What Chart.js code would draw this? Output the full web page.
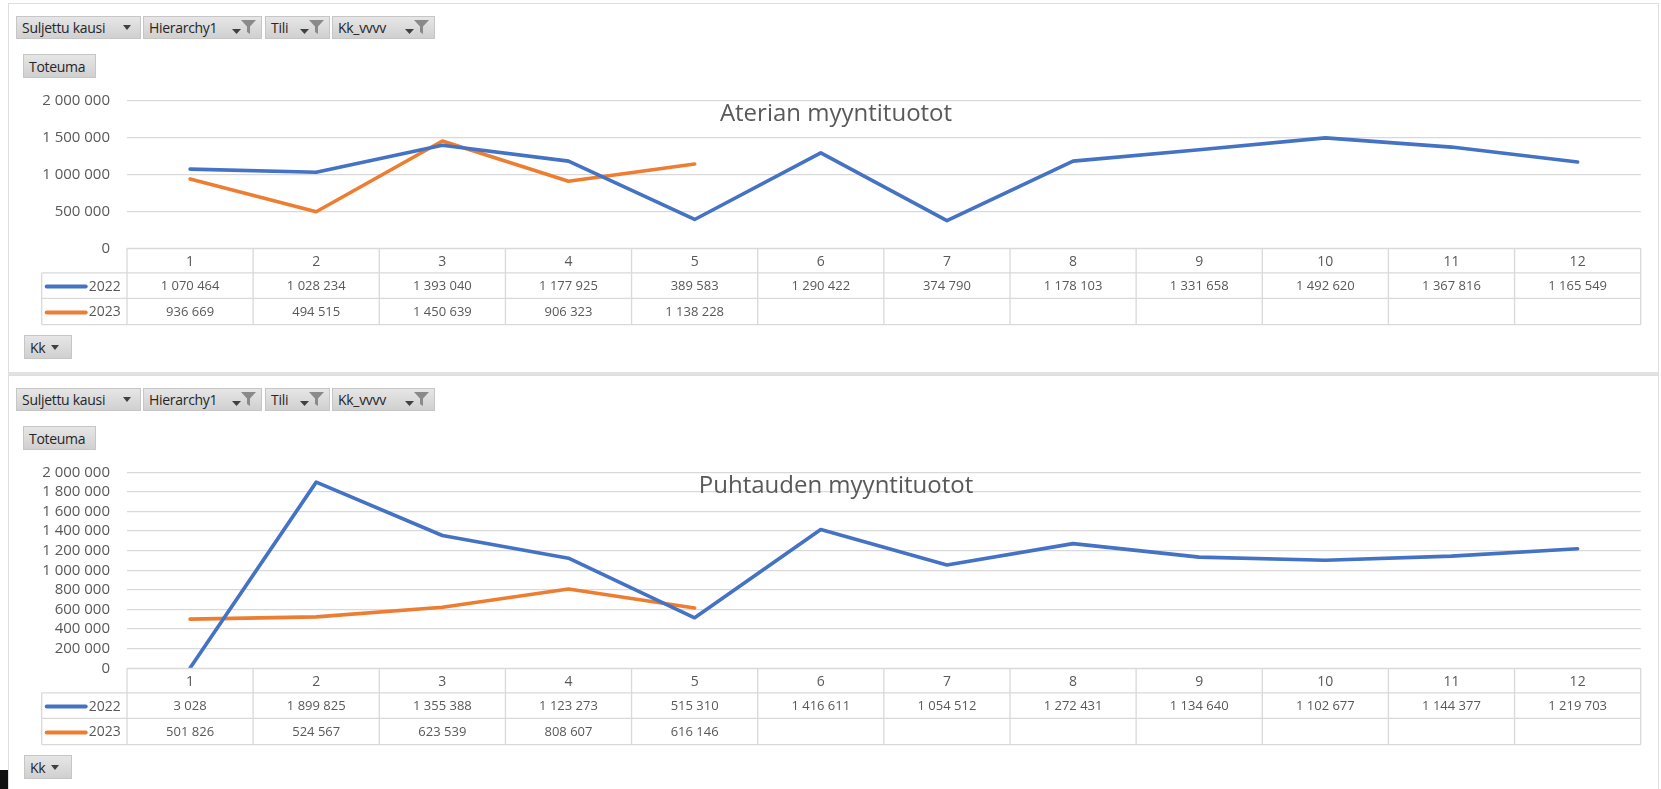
<!DOCTYPE html>
<html lang="fi">
<head>
<meta charset="utf-8">
<title>Myyntituotot</title>
<script src="https://cdn.jsdelivr.net/npm/chart.js@4.4.1/dist/chart.umd.min.js"></script>
<style>
  html, body { margin: 0; padding: 0; background: #fff; }
  body { width: 1661px; height: 789px; position: relative; overflow: hidden; font-family: "Open Sans", sans-serif; }
  .panel { position: absolute; left: 8px; width: 1651px; border: 1px solid #dedede; box-sizing: border-box; }
  #panel1 { top: 3px; height: 372px; border-bottom: 3px solid #e2e2e2; }
  #panel2 { top: 375px; height: 430px; }
  .btn { position: absolute; height: 23px; background: linear-gradient(#e6e6e6, #d0d0d0); border: 1px solid #c6c6c6;
         box-sizing: border-box; font-size: 14px; color: #262626; display: flex; align-items: center;
         padding-left: 5px; letter-spacing: -0.3px; white-space: nowrap; }
  .btn svg { position: absolute; }
  .title { position: absolute; font-size: 24px; line-height: 24px; color: #595959; transform: translateX(-50%); white-space: nowrap; }
  canvas { position: absolute; left: 0; }
  #blackStrip { position: absolute; left: 0; top: 770px; width: 8px; height: 19px; background: #111; }
</style>
</head>
<body>
<div class="panel" id="panel1"></div>
<div class="panel" id="panel2"></div>
<div id="blackStrip"></div>

<canvas id="aterianChart" width="1661" height="250" style="top:85px"></canvas>
<canvas id="puhtaudenChart" width="1661" height="300" style="top:455px"></canvas>

<div class="title" style="left:836px; top:100px">Aterian myyntituotot</div>
<div class="title" style="left:836px; top:472px">Puhtauden myyntituotot</div>

<script>
const months = ["1", "2", "3", "4", "5", "6", "7", "8", "9", "10", "11", "12"];
const years = ["2022", "2023"];

const aterian2022 = [1070464, 1028234, 1393040, 1177925, 389583, 1290422, 374790, 1178103, 1331658, 1492620, 1367816, 1165549];
const aterian2023 = [936669, 494515, 1450639, 906323, 1138228, null, null, null, null, null, null, null];

const puhtauden2022 = [3028, 1899825, 1355388, 1123273, 515310, 1416611, 1054512, 1272431, 1134640, 1102677, 1144377, 1219703];
const puhtauden2023 = [501826, 524567, 623539, 808607, 616146, null, null, null, null, null, null, null];

const yMax = 2000000;
const aterianStep = 500000;
const puhtaudenStep = 200000;

const filterButtons = ["Suljettu kausi", "Hierarchy1", "Tili", "Kk_vvvv"];

const BLUE = "#4472C4";
const ORANGE = "#ED7D31";
const TEXT = "#595959";
const GRID = "#d9d9d9";

Chart.defaults.font.family = "'Open Sans', sans-serif";

function formatNumber(value) {
  return String(Math.round(value)).replace(/\B(?=(\d{3})+(?!\d))/g, " ");
}

// ---- filter bars (pivot chart buttons) ----
const ARROW = '<svg width="8" height="5" style="right:9px;top:8px"><path d="M0 0H8L4 5Z" fill="#404040"/></svg>';
const FUNNEL =
  '<svg width="9" height="5" style="right:20px;top:12px"><path d="M0 0H9L4.5 5Z" fill="#404040"/></svg>' +
  '<svg width="15" height="14" style="right:5px;top:3px"><path d="M0 0H15L9 6.5V14L6 12V6.5Z" fill="#8a8a8a"/></svg>';

function addButton(text, left, top, width, height, icons) {
  const el = document.createElement("div");
  el.className = "btn";
  el.style.left = left + "px";
  el.style.top = top + "px";
  el.style.width = width + "px";
  el.style.height = height + "px";
  el.innerHTML = "<span>" + text + "</span>" + (icons || "");
  document.body.appendChild(el);
}

function addFilterBar(top, kkTop) {
  const lefts = [16, 143, 265, 332];
  const widths = [125, 119, 65, 103];
  filterButtons.forEach((name, i) => {
    addButton(name, lefts[i], top, widths[i], 23, i === 0 ? ARROW : FUNNEL);
  });
  addButton("Toteuma", 23, top + 38, 73, 24, "");
  addButton("Kk", 24, kkTop, 48, 24,
    '<svg width="8" height="5" style="right:12px;top:9px"><path d="M0 0H8L4 5Z" fill="#404040"/></svg>');
}

addFilterBar(16, 335);
addFilterBar(388, 755);

// ---- data table drawn under the plot, aligned to the x scale ----
const dataTablePlugin = {
  id: "dataTable",
  afterDraw(chart, args, opts) {
    const { ctx, chartArea, scales } = chart;
    const x = scales.x;
    const left = chartArea.left;
    const right = chartArea.right;
    const top = chartArea.bottom;
    const n = chart.data.labels.length;
    const colW = (right - left) / n;
    const rowH = opts.rowHeights;
    const y1 = top + rowH[0];
    const y2 = y1 + rowH[1];
    const y3 = y2 + rowH[2];
    const legendLeft = opts.legendLeft;

    ctx.save();
    ctx.strokeStyle = GRID;
    ctx.lineWidth = 1.3;
    ctx.beginPath();
    ctx.moveTo(left, top);
    ctx.lineTo(right, top);
    [y1, y2, y3].forEach((y) => {
      ctx.moveTo(legendLeft, y);
      ctx.lineTo(right, y);
    });
    ctx.moveTo(legendLeft, y1);
    ctx.lineTo(legendLeft, y3);
    for (let i = 0; i <= n; i++) {
      const cx = left + i * colW;
      ctx.moveTo(cx, top);
      ctx.lineTo(cx, y3);
    }
    ctx.stroke();

    ctx.fillStyle = TEXT;
    ctx.textAlign = "center";
    ctx.textBaseline = "middle";
    ctx.font = "14px 'Open Sans'";
    chart.data.labels.forEach((label, i) => {
      ctx.fillText(label, x.getPixelForValue(i), top + rowH[0] / 2 + 1);
    });

    chart.data.datasets.forEach((ds, r) => {
      const rowTop = r === 0 ? y1 : y2;
      const mid = rowTop + rowH[r + 1] / 2 + 1;

      ctx.strokeStyle = ds.borderColor;
      ctx.lineWidth = 4;
      ctx.lineCap = "round";
      ctx.beginPath();
      ctx.moveTo(legendLeft + 5, mid);
      ctx.lineTo(legendLeft + 44, mid);
      ctx.stroke();

      ctx.fillStyle = TEXT;
      ctx.textAlign = "left";
      ctx.font = "14px 'Open Sans'";
      ctx.fillText(ds.label, legendLeft + 47, mid);

      ctx.textAlign = "center";
      ctx.font = "13px 'Open Sans'";
      ds.data.forEach((v, i) => {
        if (v === null) return;
        ctx.fillText(formatNumber(v), x.getPixelForValue(i), mid);
      });
    });
    ctx.restore();
  },
};

function makeChart(canvasId, series2022, series2023, stepSize, padTop) {
  return new Chart(document.getElementById(canvasId), {
    type: "line",
    data: {
      labels: months,
      datasets: [
        { label: years[0], data: series2022, borderColor: BLUE, backgroundColor: BLUE },
        { label: years[1], data: series2023, borderColor: ORANGE, backgroundColor: ORANGE },
      ],
    },
    options: {
      responsive: false,
      animation: false,
      devicePixelRatio: 1,
      layout: {
        padding: { top: padTop, right: 20.3, bottom: 86.7, left: 0 },
      },
      elements: {
        point: { radius: 0, hoverRadius: 0 },
        line: { borderWidth: 3.6, tension: 0, borderCapStyle: "round", borderJoinStyle: "round" },
      },
      plugins: {
        legend: { display: false },
        tooltip: { enabled: false },
        dataTable: { rowHeights: [24.5, 25.5, 26.3], legendLeft: 41.7 },
      },
      scales: {
        x: { type: "category", offset: true, display: false },
        y: {
          min: 0,
          max: yMax,
          afterFit: (scale) => {
            scale.width = 127;
            scale.paddingTop = 0;
            scale.paddingBottom = 0;
          },
          ticks: {
            stepSize,
            autoSkip: false,
            padding: 17,
            color: TEXT,
            font: { size: 15 },
            callback: (value) => formatNumber(value),
          },
          grid: { color: GRID, lineWidth: 1.3, drawTicks: false },
          border: { display: false },
        },
      },
    },
    plugins: [dataTablePlugin],
  });
}

makeChart("aterianChart", aterian2022, aterian2023, aterianStep, 15.3);
makeChart("puhtaudenChart", puhtauden2022, puhtauden2023, puhtaudenStep, 17.3);
</script>
</body>
</html>
